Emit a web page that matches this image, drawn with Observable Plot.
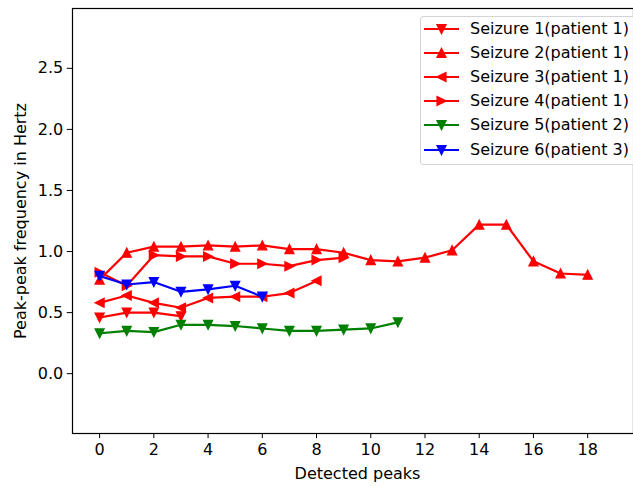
<!DOCTYPE html>
<html>
<head>
<meta charset="utf-8">
<script src="https://cdn.jsdelivr.net/npm/d3@7"></script>
<script src="https://cdn.jsdelivr.net/npm/@observablehq/plot@0.6"></script>
<style>
  html, body { margin: 0; padding: 0; background: #fff; overflow: hidden; }
  #wrap { position: relative; width: 633px; height: 486px; overflow: hidden; font-family: "DejaVu Sans", sans-serif; }
  #wrap svg { display: block; }
  .legend-box { position: absolute; border: 1px solid #d4d4d4; border-radius: 3px; background: rgba(255,255,255,0.8); box-sizing: border-box; }
  .legend-row { position: absolute; height: 20px; line-height: 20px; font-size: 16px; color: #000; white-space: nowrap; font-family: "DejaVu Sans", sans-serif; }
</style>
</head>
<body>
<div id="wrap"></div>
<script>
// ---- data ----
const seriesNames = [
  "Seizure 1(patient 1)",
  "Seizure 2(patient 1)",
  "Seizure 3(patient 1)",
  "Seizure 4(patient 1)",
  "Seizure 5(patient 2)",
  "Seizure 6(patient 3)"
];
const seizure1 = [0.46, 0.50, 0.50, 0.47];
const seizure2 = [0.77, 0.99, 1.04, 1.04, 1.05, 1.04, 1.05, 1.02, 1.02, 0.99, 0.93, 0.92, 0.95, 1.01, 1.22, 1.22, 0.92, 0.82, 0.81];
const seizure3 = [0.58, 0.64, 0.58, 0.54, 0.62, 0.63, 0.63, 0.66, 0.76];
const seizure4 = [0.83, 0.72, 0.97, 0.96, 0.96, 0.90, 0.90, 0.88, 0.93, 0.95];
const seizure5 = [0.33, 0.35, 0.34, 0.40, 0.40, 0.39, 0.37, 0.35, 0.35, 0.36, 0.37, 0.42];
const seizure6 = [0.80, 0.73, 0.75, 0.67, 0.69, 0.72, 0.63];
const seriesValues = [seizure1, seizure2, seizure3, seizure4, seizure5, seizure6];
const seriesColors = ["#ff0000", "#ff0000", "#ff0000", "#ff0000", "#008000", "#0000ff"];
const seriesMarkers = ["down", "up", "left", "right", "down", "down"];
const xTicks = [0, 2, 4, 6, 8, 10, 12, 14, 16, 18];
const yTicks = [0, 0.5, 1.0, 1.5, 2.0, 2.5];
const xLabel = "Detected peaks";
const yLabel = "Peak-peak frequency in Hertz";

// ---- marker symbols (matplotlib-like triangles) ----
function triangle(dir) {
  return {
    draw(ctx, size) {
      const r = Math.sqrt(size / Math.PI);
      let pts;
      if (dir === "up") pts = [[0, -r], [-r, r], [r, r]];
      else if (dir === "down") pts = [[0, r], [-r, -r], [r, -r]];
      else if (dir === "left") pts = [[-r, 0], [r, -r], [r, r]];
      else pts = [[r, 0], [-r, -r], [-r, r]];
      ctx.moveTo(pts[0][0], pts[0][1]);
      ctx.lineTo(pts[1][0], pts[1][1]);
      ctx.lineTo(pts[2][0], pts[2][1]);
      ctx.closePath();
    }
  };
}

const R = 4.4;
const tables = seriesValues.map((vals, k) => vals.map((v, i) => ({x: i, y: v, series: seriesNames[k]})));

const marks = [Plot.frame({stroke: "#000", strokeWidth: 1.2})];
tables.forEach((t, k) => {
  marks.push(Plot.line(t, {x: "x", y: "y", stroke: seriesColors[k], strokeWidth: 2.2, strokeLinejoin: "round", strokeLinecap: "square"}));
  marks.push(Plot.dot(t, {x: "x", y: "y", symbol: triangle(seriesMarkers[k]), r: R, fill: seriesColors[k], stroke: seriesColors[k], strokeWidth: 1.4}));
});
marks.push(Plot.text([yLabel], {frameAnchor: "left", textAnchor: "middle", lineAnchor: "middle", rotate: -90, dx: -52, fontSize: 16, fill: "#000"}));
marks.push(Plot.text([xLabel], {frameAnchor: "bottom", textAnchor: "middle", lineAnchor: "middle", dy: 40, dx: 4.5, fontSize: 16, fill: "#000"}));

const chart = Plot.plot({
  width: 633,
  height: 486,
  marginLeft: 72,
  marginRight: 0,
  marginTop: 8,
  marginBottom: 53,
  style: {fontSize: "16px", fontFamily: "DejaVu Sans", color: "#000", background: "#fff", overflow: "visible"},
  x: {domain: [-1.0, 19.69], ticks: xTicks, tickSize: 5.2, tickPadding: 4.5, label: null, tickFormat: d3.format("d")},
  y: {domain: [-0.49, 2.99], ticks: yTicks, tickSize: 5.2, tickPadding: 4, label: null, tickFormat: d3.format(".1f")},
  marks
});

const wrap = document.getElementById("wrap");
wrap.appendChild(chart);

// ---- legend (HTML overlay inside the axes, upper right) ----
const box = document.createElement("div");
box.className = "legend-box";
Object.assign(box.style, {left: "420px", top: "16px", width: "260px", height: "149px"});
wrap.appendChild(box);

seriesNames.forEach((name, k) => {
  const cy = 29 + k * 24.1;
  const handle = d3.create("svg").attr("width", 40).attr("height", 20)
    .style("position", "absolute").style("left", "422px").style("top", (cy - 10) + "px").style("overflow", "visible");
  handle.append("line").attr("x1", 2).attr("x2", 37).attr("y1", 10).attr("y2", 10)
    .attr("stroke", seriesColors[k]).attr("stroke-width", 2.2);
  handle.append("path").attr("transform", "translate(19.5,10)")
    .attr("d", d3.symbol(triangle(seriesMarkers[k]), R * R * Math.PI)())
    .attr("fill", seriesColors[k]).attr("stroke", seriesColors[k]).attr("stroke-width", 1.4);
  wrap.appendChild(handle.node());
  const row = document.createElement("div");
  row.className = "legend-row";
  row.style.left = "470px";
  row.style.top = (cy - 10) + "px";
  row.textContent = name;
  wrap.appendChild(row);
});
</script>
</body>
</html>
